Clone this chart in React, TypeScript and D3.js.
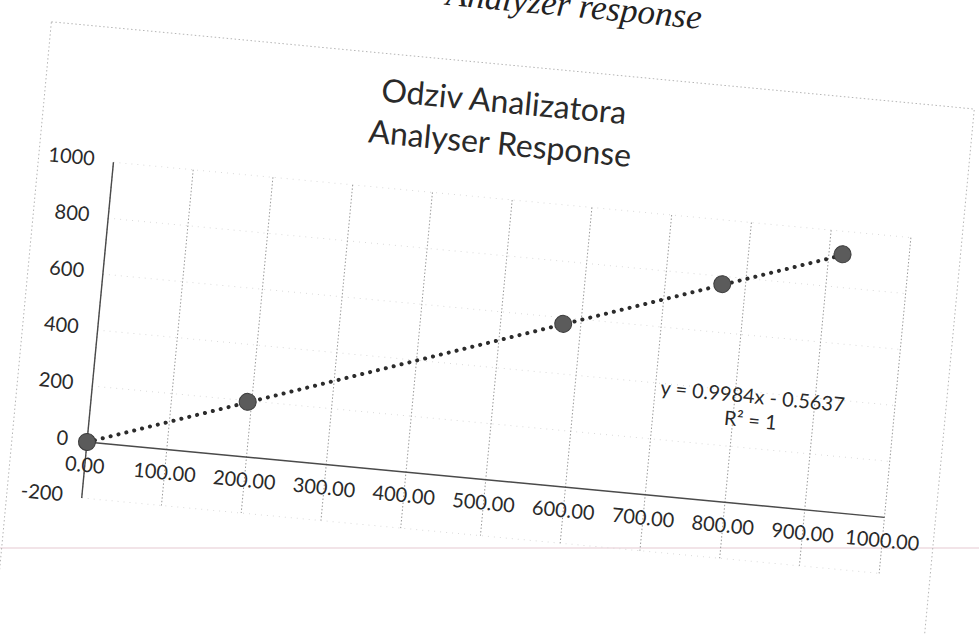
import React from "react";
import * as d3 from "d3";

// ---- data ----
const xValues = [0, 195, 578, 771, 917];
const yValues = [0, 196, 578, 772, 918];
const xTicks = [0, 100, 200, 300, 400, 500, 600, 700, 800, 900, 1000];
const yTicks = [-200, 0, 200, 400, 600, 800, 1000];
const titleLines = ["Odziv Analizatora", "Analyser Response"];
const trendSlope = 0.9984;
const trendIntercept = -0.5637;
const trendLabel = "y = 0.9984x - 0.5637";
const r2Label = "R² = 1";
const captionText = "Analyzer response";

const W = 979;
const H = 635;
const ORIGIN_X = 87;
const ORIGIN_Y = 442;
const ANGLE = 5.4;

export default function App() {
  const x = d3.scaleLinear().domain([0, 1000]).range([0, 801]);
  const y = d3.scaleLinear().domain([-200, 1000]).range([56.2, -281]);
  const font = "Lato, 'Noto Sans', sans-serif";
  const textColor = "#2a2a2a";

  const trendX = [0, xValues[xValues.length - 1]];
  const trendLine = d3
    .line<number>()
    .x((d) => x(d))
    .y((d) => y(trendSlope * d + trendIntercept));

  return (
    <svg
      width={W}
      height={H}
      style={{ position: "absolute", left: 0, top: 0, background: "#fff" }}
    >
      <rect x={0} y={0} width={W} height={H} fill="#fff" />
      {/* scanner artifact line */}
      <line x1={0} x2={W} y1={548} y2={548} stroke="#e6c9d2" strokeWidth={1.2} />
      <g transform={`translate(${ORIGIN_X},${ORIGIN_Y}) rotate(${ANGLE})`}>
        {/* caption cut at page top */}
        <text
          x={572}
          y={-469}
          textAnchor="end"
          fontFamily="'Liberation Serif', 'DejaVu Serif', serif"
          fontStyle="italic"
          fontSize={35}
          fill="#222"
        >
          {captionText}
        </text>
        {/* chart border */}
        <rect
          x={-75}
          y={-415}
          width={927}
          height={620}
          fill="none"
          stroke="#b5b5b5"
          strokeWidth={1}
          strokeDasharray="1.5 2.5"
        />
        {/* horizontal gridlines */}
        {yTicks.map((t) => (
          <line
            key={"hg" + t}
            x1={x(0)}
            x2={x(1000)}
            y1={y(t)}
            y2={y(t)}
            stroke="#dadada"
            strokeWidth={1}
            strokeDasharray="1 5"
          />
        ))}
        {/* vertical gridlines */}
        {xTicks.map((t) => (
          <line
            key={"vg" + t}
            x1={x(t)}
            x2={x(t)}
            y1={y(1000)}
            y2={y(-200)}
            stroke="#9a9a9a"
            strokeWidth={1}
            strokeDasharray="1.5 2"
          />
        ))}
        {/* axes */}
        <line x1={x(0)} x2={x(1000)} y1={y(0)} y2={y(0)} stroke="#4a4a4a" strokeWidth={1.4} />
        <line x1={x(0)} x2={x(0)} y1={y(-200)} y2={y(1000)} stroke="#4a4a4a" strokeWidth={1.4} />
        {/* x tick labels */}
        {xTicks.map((t) => (
          <text
            key={"xl" + t}
            x={x(t)}
            y={y(0) + 25}
            textAnchor="middle"
            dominantBaseline="middle"
            fontFamily={font}
            fontSize={20}
            fill={textColor}
          >
            {t.toFixed(2)}
          </text>
        ))}
        {/* y tick labels */}
        {yTicks.map((t) => (
          <text
            key={"yl" + t}
            x={-19}
            y={y(t)}
            textAnchor="end"
            dominantBaseline="middle"
            fontFamily={font}
            fontSize={20}
            fill={textColor}
          >
            {t}
          </text>
        ))}
        {/* trendline */}
        <path
          d={trendLine(trendX) || ""}
          fill="none"
          stroke="#2b2b2b"
          strokeWidth={4}
          strokeLinecap="round"
          strokeDasharray="0.1 8"
        />
        {/* markers */}
        {xValues.map((v, i) => (
          <circle
            key={"pt" + i}
            cx={x(v)}
            cy={y(yValues[i])}
            r={8.5}
            fill="#5b5b5b"
            stroke="#3c3c3c"
            strokeWidth={1}
          />
        ))}
        {/* title */}
        {titleLines.map((s, i) => (
          <text
            key={"t" + i}
            x={383}
            y={-375 + i * 42}
            textAnchor="middle"
            dominantBaseline="middle"
            fontFamily={font}
            fontSize={32}
            fill={textColor}
          >
            {s}
          </text>
        ))}
        {/* trendline label */}
        <text
          x={x(822)}
          y={y(378)}
          textAnchor="middle"
          dominantBaseline="middle"
          fontFamily={font}
          fontSize={20}
          fill={textColor}
        >
          {trendLabel}
        </text>
        <text
          x={x(822)}
          y={y(292)}
          textAnchor="middle"
          dominantBaseline="middle"
          fontFamily={font}
          fontSize={20}
          fill={textColor}
        >
          {r2Label}
        </text>
      </g>
    </svg>
  );
}
